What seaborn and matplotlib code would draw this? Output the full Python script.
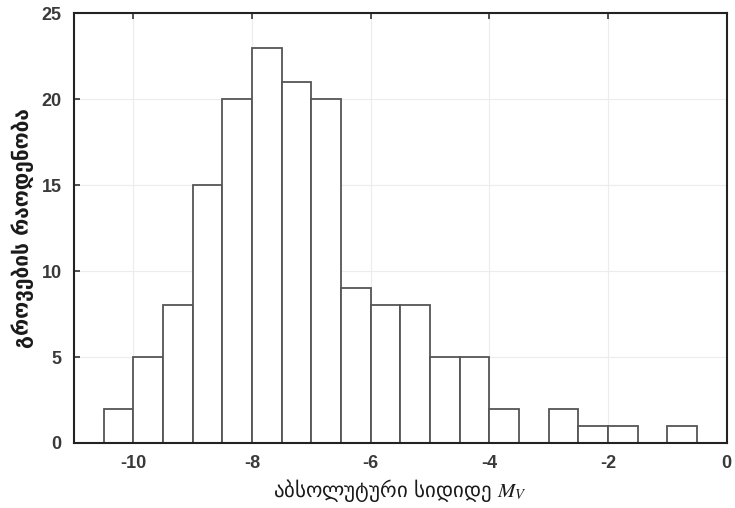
import numpy as np
import pandas as pd
import seaborn as sns
import matplotlib.pyplot as plt

# Histogram of absolute magnitudes: bin edges (0.5 mag wide) and counts per bin
bin_edges = [-10.5, -10.0, -9.5, -9.0, -8.5, -8.0, -7.5, -7.0, -6.5, -6.0, -5.5,
             -5.0, -4.5, -4.0, -3.5, -3.0, -2.5, -2.0, -1.5, -1.0, -0.5]
counts = [2, 5, 8, 15, 20, 23, 21, 20, 9, 8, 8, 5, 5, 2, 0, 2, 1, 1, 0, 1]
x_ticks = [-10, -8, -6, -4, -2, 0]
y_ticks = [0, 5, 10, 15, 20, 25]

centers = [(a + b) / 2 for a, b in zip(bin_edges[:-1], bin_edges[1:])]
df = pd.DataFrame({"mag": centers, "n": counts})

sns.set_style("white")
plt.rcParams["font.family"] = ["DejaVu Sans"]
plt.rcParams["axes.unicode_minus"] = False
plt.rcParams["mathtext.fontset"] = "stix"

fig = plt.figure(figsize=(7.35, 5.08), dpi=100)
ax = fig.add_axes([0.1007, 0.128, 0.888, 0.846])

sns.histplot(data=df, x="mag", weights="n", bins=bin_edges, ax=ax,
             color="white", edgecolor="#555555", linewidth=1.3, alpha=1.0)

ax.set_xlim(-11, 0)
ax.set_ylim(0, 25)
ax.set_xticks(x_ticks)
ax.set_yticks(y_ticks)
ax.grid(True, color="#ececec", linewidth=0.8, linestyle="-")
ax.set_axisbelow(True)

for s in ax.spines.values():
    s.set_visible(True)
    s.set_color("#222222")
    s.set_linewidth(1.5)

ax.tick_params(direction="in", length=4, width=1.2, color="#333333",
               labelsize=13, pad=9, top=True, right=False, left=True, bottom=True)
for lbl in ax.get_xticklabels() + ax.get_yticklabels():
    lbl.set_fontfamily("Liberation Sans")
    lbl.set_fontweight("bold")
    lbl.set_color("#3a3a3a")

ax.set_xlabel("აბსოლუტური სიდიდე $M_V$", fontsize=15, color="#1a1a1a", labelpad=3)
ax.set_ylabel("გროვების რაოდენობა", fontsize=15, fontweight="bold",
              color="#1a1a1a", labelpad=5)

fig.savefig("out.png", dpi=100)
